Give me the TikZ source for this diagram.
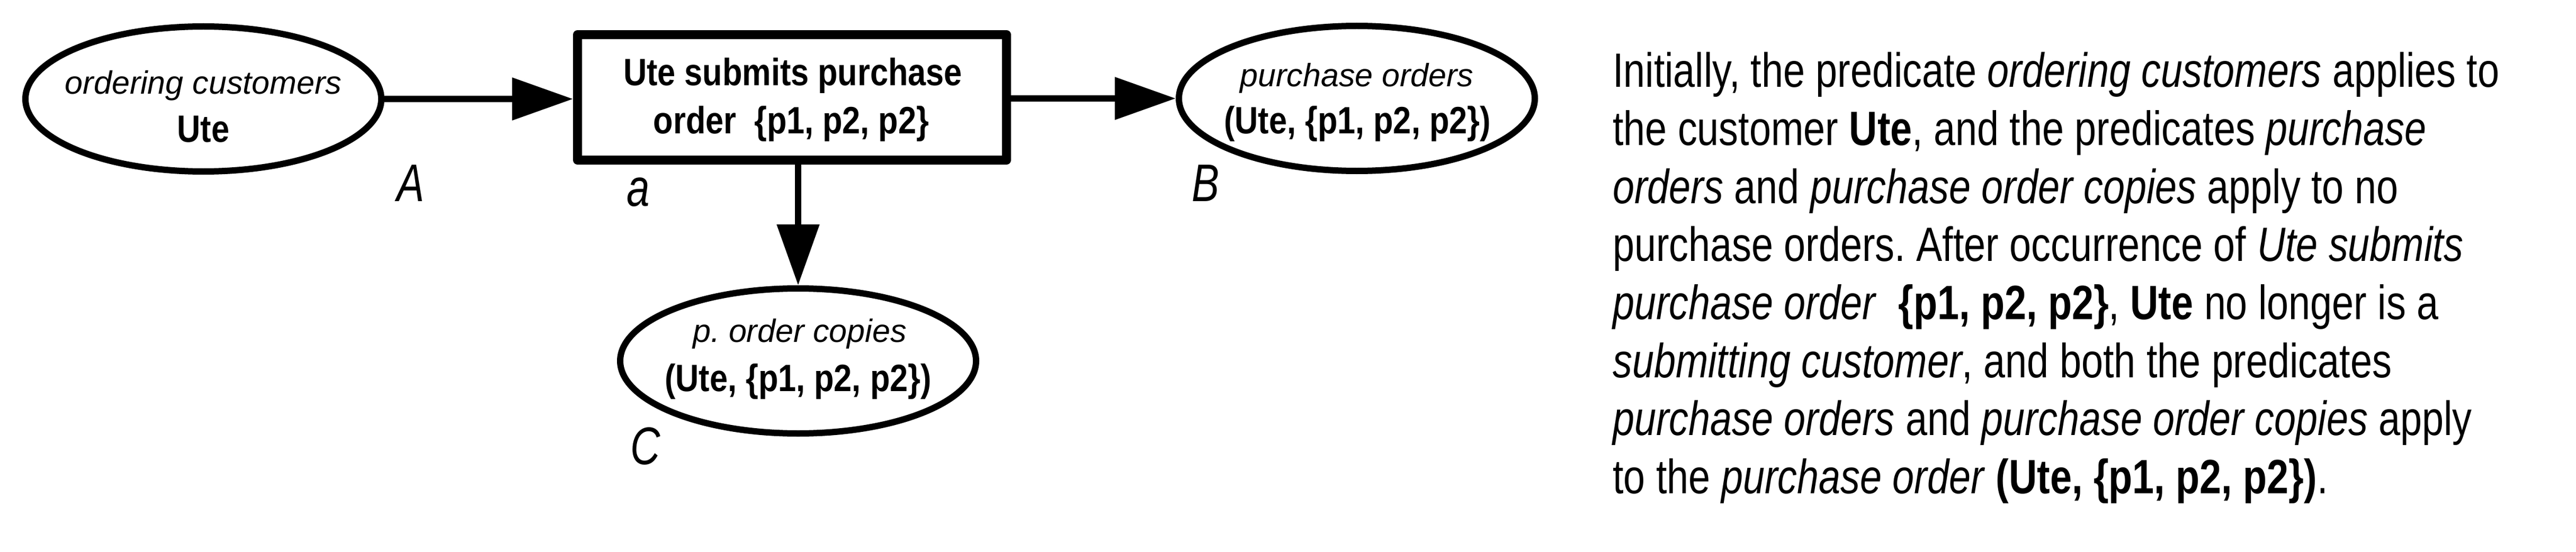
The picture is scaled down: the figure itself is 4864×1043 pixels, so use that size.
\documentclass[tikz,border=0pt]{standalone}
\usepackage{fontspec}
\setmainfont{Liberation Sans}
\newfontfamily\narrowfont{Liberation Sans}[FakeStretch=0.81]
\newfontfamily\boldnarrow{Liberation Sans}[FakeStretch=0.85]
\newfontfamily\labelfont{Liberation Sans}[FakeStretch=0.78]
\usetikzlibrary{arrows.meta,shapes.geometric}
\frenchspacing
\begin{document}
\begin{tikzpicture}[x=1pt,y=-1pt,
  place/.style={ellipse, draw, line width=12pt, minimum width=672pt, minimum height=274pt, inner sep=0pt},
  trans/.style={rectangle, draw, line width=17pt, line join=round, minimum width=810pt, minimum height=237pt, inner sep=0pt},
  arc/.style={line width=12pt, -{Triangle[length=115pt,width=78pt]}},
  itx/.style={font=\fontsize{61}{73}\selectfont\itshape, inner sep=0pt, anchor=base},
  btx/.style={font=\boldnarrow\fontsize{72}{86}\selectfont\bfseries, inner sep=0pt, anchor=base},
  lbl/.style={font=\labelfont\fontsize{100}{120}\selectfont\itshape, inner sep=0pt, anchor=base west},
  para/.style={font=\narrowfont\fontsize{91}{110}\selectfont\frenchspacing, inner sep=0pt, anchor=base west}]
\path[fill=white] (0,0) rectangle (4864,1043);
% nodes
\node[place] (A) at (384,187) {};
\node[trans] (a) at (1495.5,184) {};
\node[place] (B) at (2562,186) {};
\node[place] (C) at (1507,682) {};
% node texts
\node[itx] (A1) at (384,178) {ordering customers};
\node[btx] (A2) at (384,269) {Ute};
\node[btx] (a1) at (1497,162) {Ute submits purchase};
\node[btx] (a2) at (1494,252) {order\ \ \{p1, p2, p2\}};
\node[itx] (B1) at (2562,164) {purchase orders};
\node[btx] (B2) at (2563,252) {(Ute, \{p1, p2, p2\})};
\node[itx] (C1) at (1510,646) {p. order copies};
\node[btx] (C2) at (1507,739) {(Ute, \{p1, p2, p2\})};
% labels
\node[lbl] (lA) at (749,380) {A};
\node[lbl] (la) at (1183,389) {a};
\node[lbl] (lB) at (2250,380) {B};
\node[lbl] (lC) at (1190,877) {C};
% arcs
\draw[arc] (A.east) -- (A.east -| a.west);
\draw[arc] (a.east |- B.west) -- (B.west);
\draw[arc] (C.north |- a.south) -- (C.north);
% paragraph
\node[para] (P1) at (3045,165) {Initially, the predicate \textit{ordering customers} applies to};
\node[para] (P2) at (3045,274.6) {the customer \textbf{Ute}, and the predicates \textit{purchase}};
\node[para] (P3) at (3045,384.2) {\textit{orders} and \textit{purchase order copies} apply to no};
\node[para] (P4) at (3045,493.8) {purchase orders. After occurrence of \textit{Ute submits}};
\node[para] (P5) at (3045,603.4) {\textit{purchase order}\ \ \textbf{\{p1, p2, p2\}}, \textbf{Ute} no longer is a};
\node[para] (P6) at (3045,713) {\textit{submitting customer}, and both the predicates};
\node[para] (P7) at (3045,822.6) {\textit{purchase orders} and \textit{purchase order copies} apply};
\node[para] (P8) at (3045,932.2) {to the \textit{purchase order} \textbf{(Ute, \{p1, p2, p2\})}.};
\end{tikzpicture}
\end{document}
